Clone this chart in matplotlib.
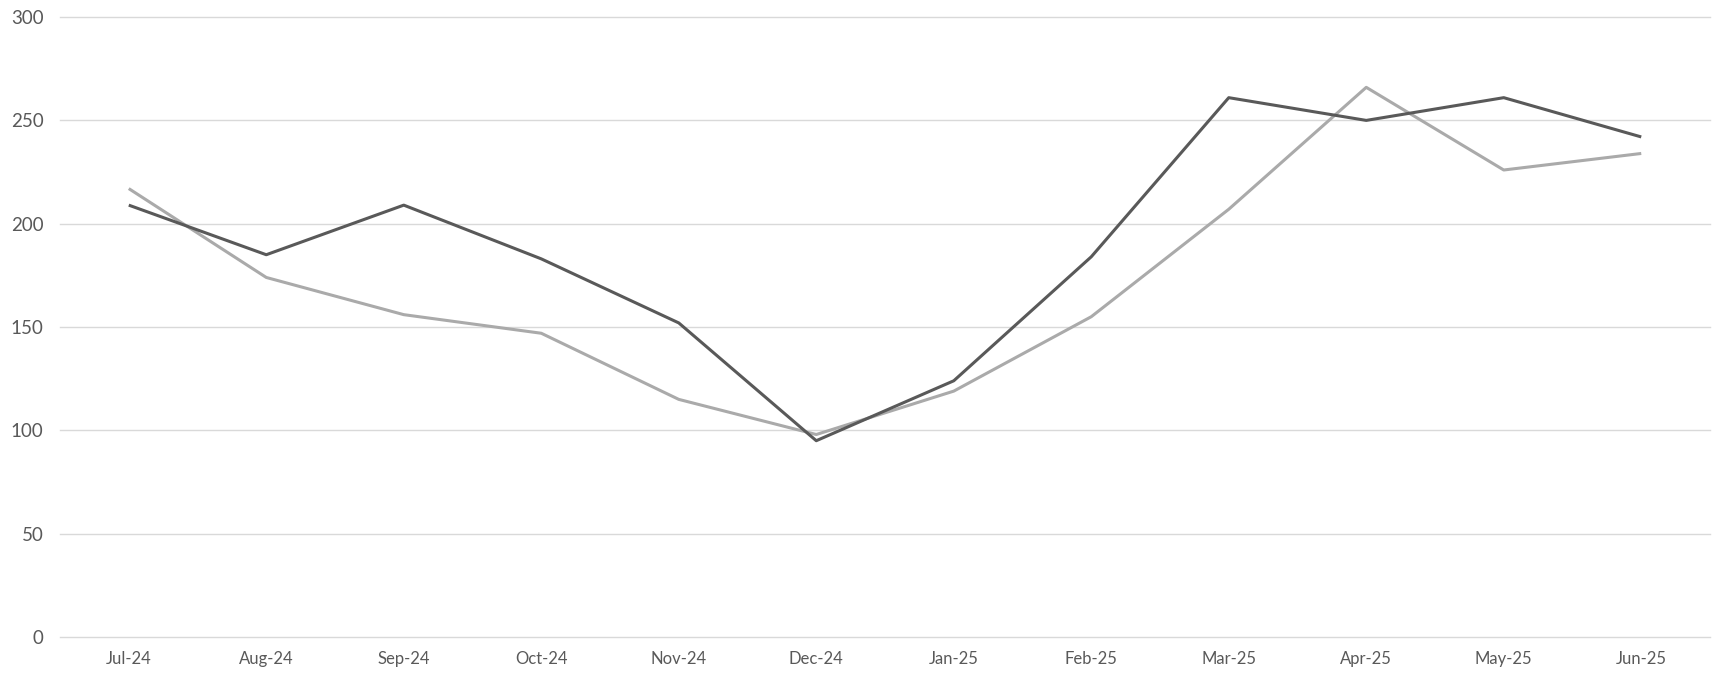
import matplotlib.pyplot as plt

# Monthly values
months = ['Jul-24', 'Aug-24', 'Sep-24', 'Oct-24', 'Nov-24', 'Dec-24',
          'Jan-25', 'Feb-25', 'Mar-25', 'Apr-25', 'May-25', 'Jun-25']
dark_series = [209, 185, 209, 183, 152, 95, 124, 184, 261, 250, 261, 242]
light_series = [217, 174, 156, 147, 115, 98, 119, 155, 207, 266, 226, 234]
y_ticks = [0, 50, 100, 150, 200, 250, 300]

plt.rcParams['font.family'] = ['Lato', 'DejaVu Sans']

fig = plt.figure(figsize=(17.25, 6.83), dpi=100)
ax = fig.add_axes([0.0348, 0.0673, 0.9565, 0.9077])

x = range(len(months))
ax.plot(x, light_series, color='#aaaaaa', linewidth=2.2, solid_capstyle='butt', zorder=3)
ax.plot(x, dark_series, color='#595959', linewidth=2.2, solid_capstyle='butt', zorder=4)

ax.set_xlim(-0.5, len(months) - 0.5)
ax.set_ylim(0, 300)
ax.set_yticks(y_ticks)
ax.set_xticks(list(x))
ax.set_xticklabels(months)

ax.grid(axis='y', color='#d9d9d9', linewidth=1.0)
for line in ax.get_ygridlines():
    line.set_clip_on(False)
ax.set_axisbelow(True)
for s in ax.spines.values():
    s.set_visible(False)
ax.tick_params(axis='both', length=0, colors='#595959')
ax.tick_params(axis='y', labelsize=13.5, pad=12)
ax.tick_params(axis='x', labelsize=12, pad=10)

fig.savefig('out.png', dpi=100)
